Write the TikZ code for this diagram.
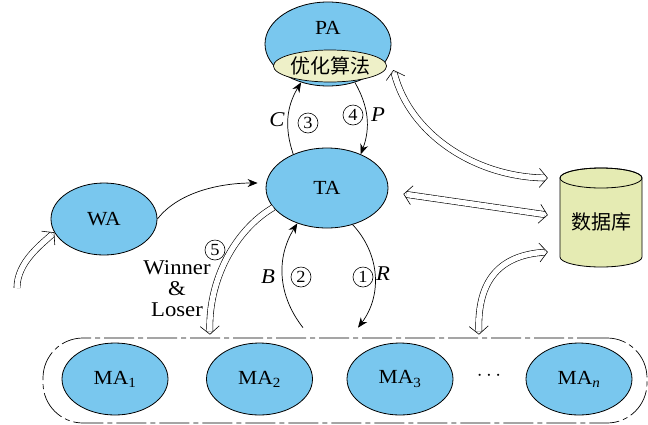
\documentclass[tikz,border=0pt]{standalone}
\usepackage{fontspec}
\setmainfont{Liberation Serif}[FakeStretch=1.08]
\newfontfamily\cjk{Noto Sans CJK SC}
\usetikzlibrary{shapes.geometric,arrows.meta,calc}
\definecolor{eblue}{HTML}{79C7EE}
\definecolor{ecream}{HTML}{EEF0C8}
\definecolor{dbfill}{HTML}{E5EBB3}
\tikzset{
 Chev/.tip={Straight Barb[color=black, length=8pt, width=19pt, line width=0.6pt]},
 agent/.style={ellipse, draw, line width=0.8pt, fill=eblue, inner sep=0pt, font=\fontsize{20}{22}\selectfont},
 flow/.style={-{Stealth[length=10pt,width=8pt]}, line width=0.7pt},
 dbl/.style={double, double distance=5.5pt, line width=0.6pt},
 dblend/.style={dbl, shorten >=3pt},
 dblboth/.style={dbl, shorten >=3pt, shorten <=3pt},
 chevend/.style={draw=white, line width=0.3pt, -{Chev}},
 chevboth/.style={draw=white, line width=0.3pt, {Chev}-{Chev}},
 num/.style={circle, draw, line width=0.6pt, minimum size=20pt, inner sep=0pt, font=\fontsize{17}{17}\selectfont},
 lbl/.style={font=\fontsize{21}{22}\selectfont\itshape},
 txt/.style={font=\fontsize{20}{22}\selectfont},
 cjktxt/.style={font=\cjk\fontsize{20}{20}\selectfont},
}
\begin{document}
\begin{tikzpicture}[x=1pt,y=-1pt]
\useasboundingbox (0,0) rectangle (648,424);
% container of MAs
\node[draw, line width=0.7pt, dash pattern=on 30pt off 4pt on 5pt off 4pt, rounded corners=40pt,
      minimum width=604pt, minimum height=85pt, inner sep=0pt] (MAs) at (345,380.5) {};
% agents
\node[agent, minimum width=126pt, minimum height=84pt] (PA) at (328,44) {};
\node[txt] (PAt) at (328,28) {PA};
\node[ellipse, draw, line width=0.7pt, fill=ecream, minimum width=94pt, minimum height=32pt, inner sep=0pt, cjktxt] (alg) at (330,66) {优化算法};
\node[agent, minimum width=122pt, minimum height=80pt] (TA) at (327,188) {TA};
\node[agent, minimum width=106pt, minimum height=72pt] (WA) at (104,219) {WA};
\node[agent, minimum width=106pt, minimum height=72pt] (MA1) at (115,379) {MA\textsubscript{1}};
\node[agent, minimum width=106pt, minimum height=72pt] (MA2) at (259.5,379) {MA\textsubscript{2}};
\node[agent, minimum width=106pt, minimum height=72pt] (MA3) at (400,379) {MA\textsubscript{3}};
\node[agent, minimum width=106pt, minimum height=72pt] (MAn) at (579,379) {MA\textsubscript{\textit{n}}};
\node[txt] (dots) at (489,376) {$\cdots$};
% database
\path[draw, fill=dbfill, line width=0.8pt] (560,178) -- (560,257) arc[start angle=180, end angle=360, x radius=41pt, y radius=10pt] -- (642,178) arc[start angle=0, end angle=180, x radius=41pt, y radius=10pt] -- cycle;
\draw[line width=0.8pt] (601,178) ellipse [x radius=41pt, y radius=10pt];
\node[cjktxt, minimum width=82pt, minimum height=99pt] (DB) at (601,222) {数据库};
% flows PA <-> TA
\draw[flow] (TA.135) to[bend left=25] (PA.235);
\draw[flow] (PA.305) to[bend left=25] (TA.45);
\node[lbl] (lC) at (277,120) {C};
\node[num] (n3) at (308,123) {3};
\node[num] (n4) at (353,115) {4};
\node[lbl] (lP) at (378,115) {P};
% WA -> TA
\draw[flow] (WA.east) .. controls (180,190) and (225,183) .. ($(TA.west)+(-8,-5)$);
% input to WA
\coordinate (in) at (17,288);
\draw[dblend] (in) .. controls (17,262) and (42,244) .. (WA.195);
\draw[chevend] (in) .. controls (17,262) and (42,244) .. (WA.195);
% TA <-> MAs
\draw[flow] ($(MAs.north)+(-42,-10)$) to[bend left=35] (TA.230);
\draw[flow] (TA.305) to[bend left=40] ($(MAs.north)+(13,-10)$);
\node[lbl] (lB) at (268,277) {B};
\node[num] (n2) at (301,277) {2};
\node[num] (n1) at (363,277) {1};
\node[lbl] (lR) at (383,274) {R};
% winner & loser
\draw[dblend] (TA.200) .. controls (235,230) and (208,280) .. ($(MAs.north)+(-135,-3)$);
\draw[chevend] (TA.200) .. controls (235,230) and (208,280) .. ($(MAs.north)+(-135,-3)$);
\node[num] (n5) at (215,250) {5};
\node[txt, align=center, font=\fontsize{21}{22}\selectfont] (wl) at (177,289) {Winner\\[-1pt]\&\\[-1pt]Loser};
% database links
\draw[dblboth] ($(PA.east)+(2,26)$) .. controls (410,135) and (476,177) .. ($(DB.west)+(-12,-44)$);
\draw[chevboth] ($(PA.east)+(2,26)$) .. controls (410,135) and (476,177) .. ($(DB.west)+(-12,-44)$);
\draw[dblboth] ($(TA.east)+(15,6)$) -- ($(DB.west)+(-12,-7)$);
\draw[chevboth] ($(TA.east)+(15,6)$) -- ($(DB.west)+(-12,-7)$);
\draw[dblboth] ($(MAs.north)+(134,-3)$) .. controls (477,280) and (500,255) .. ($(DB.west)+(-12,30)$);
\draw[chevboth] ($(MAs.north)+(134,-3)$) .. controls (477,280) and (500,255) .. ($(DB.west)+(-12,30)$);
\end{tikzpicture}
\end{document}
